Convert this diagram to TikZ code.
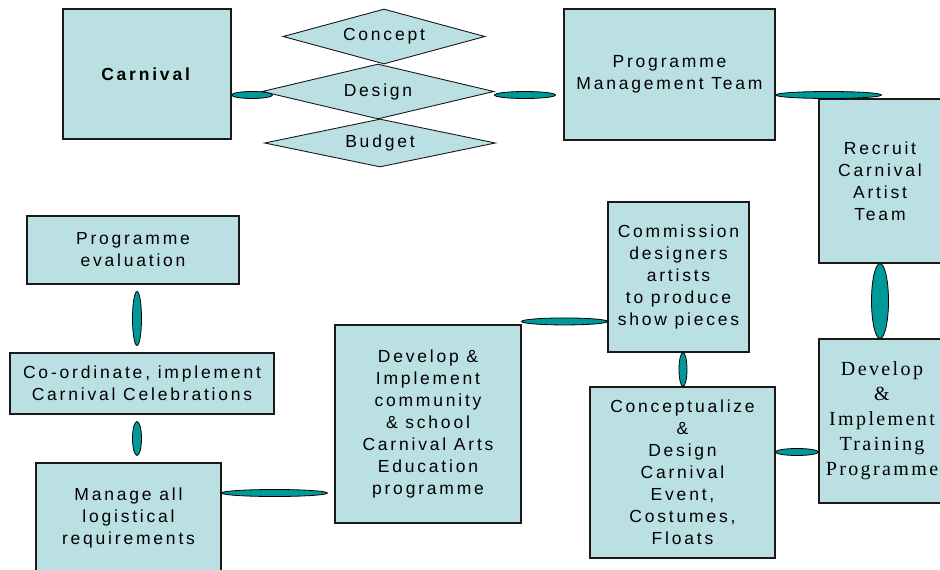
\documentclass[tikz,border=0pt]{standalone}
\usepackage{fontspec}
\setmainfont{Liberation Sans}[LetterSpace=16]
\newfontfamily\serifwide{Liberation Serif}[LetterSpace=12]
\usetikzlibrary{shapes.geometric,calc}
\definecolor{boxblue}{RGB}{187,224,227}
\definecolor{linkteal}{RGB}{0,153,153}
\def\hlink#1#2#3{\path[link] let \p1=(#1), \p2=(#2) in ({(\x1+\x2)/2},\y1) ellipse [x radius={abs(\x2-\x1)/2}, y radius=#3];}
\def\vlink#1#2#3{\path[link] let \p1=(#1), \p2=(#2) in (\x1,{(\y1+\y2)/2}) ellipse [x radius=#3, y radius={abs(\y2-\y1)/2}];}

\begin{document}
\begin{tikzpicture}[x=1pt, y=-1pt,
    box/.style={draw=black!90, fill=boxblue, line width=1.1pt, align=center, inner sep=0pt,
      font=\fontsize{17.5}{22}\selectfont},
    dia/.style={box, diamond, aspect=4, line width=0.9pt},
    link/.style={draw=black, fill=linkteal, line width=0.8pt}]
  \useasboundingbox (0,0) rectangle (940,570);

  \node[box, minimum width=168pt, minimum height=130pt] (carnival) at (147,74) {\textbf{Carnival}};
  \node[dia, minimum width=202pt, minimum height=55pt] (concept) at (384,36.5) {Concept};
  \node[dia, minimum width=232pt, minimum height=55pt] (design) at (378,91.5) {Design};
  \node[dia, minimum width=231pt, minimum height=48pt] (budget) at (380,143) {Budget};
  \node[box, minimum width=211pt, minimum height=131pt] (pmt) at (669.5,74.5) {Programme\\Management Team};
  \node[box, minimum width=122pt, minimum height=164pt] (recruit) at (880,181) {Recruit\\Carnival\\Artist\\Team};
  \node[box, minimum width=126pt, minimum height=164pt,
    font=\serifwide\fontsize{20}{25}\selectfont] (training) at (882,421)
    {Develop\\\&\\Implement\\Training\\Programme};
  \node[box, minimum width=141pt, minimum height=150pt] (commission) at (678.5,277)
    {Commission\\designers\\artists\\to produce\\show pieces};
  \node[box, minimum width=185pt, minimum height=171pt] (conceptualize) at (682.5,472.5)
    {Conceptualize\\\&\\Design\\Carnival\\Event,\\Costumes,\\Floats};
  \node[box, minimum width=186pt, minimum height=198pt] (community) at (428,424)
    {Develop \&\\Implement\\community\\\& school\\Carnival Arts\\Education\\programme};
  \node[box, minimum width=212pt, minimum height=68pt] (evaluation) at (133,250) {Programme\\evaluation};
  \node[box, minimum width=264pt, minimum height=61pt] (coordinate) at (142,383.5)
    {Co-ordinate, implement\\Carnival Celebrations};
  \node[box, minimum width=185pt, minimum height=110pt] (manage) at (128.5,518)
    {Manage all\\logistical\\requirements};

  \hlink{[yshift=-21pt]carnival.east}{[xshift=11pt]design.west}{3.5pt}
  \hlink{[yshift=-3.5pt]design.east}{[xshift=-8pt]pmt.west}{3.5pt}
  \hlink{[yshift=-20.5pt]pmt.east}{[xshift=63pt]recruit.north west}{3.5pt}
  \vlink{recruit.south}{training.north}{8.5pt}
  \hlink{[yshift=20.5pt]conceptualize.east}{training.west}{3.5pt}
  \vlink{[xshift=4.5pt]commission.south}{conceptualize.north}{4pt}
  \hlink{[yshift=3pt]community.north east}{commission.west}{3.5pt}
  \hlink{[yshift=25pt]manage.east}{[xshift=-7pt]community.west}{3.5pt}
  \vlink{[shift={(-5pt,-7pt)}]coordinate.south}{[yshift=7pt]manage.north}{4.5pt}
  \vlink{[shift={(4pt,-7pt)}]evaluation.south}{[yshift=7pt]coordinate.north}{4.5pt}
\end{tikzpicture}
\end{document}
